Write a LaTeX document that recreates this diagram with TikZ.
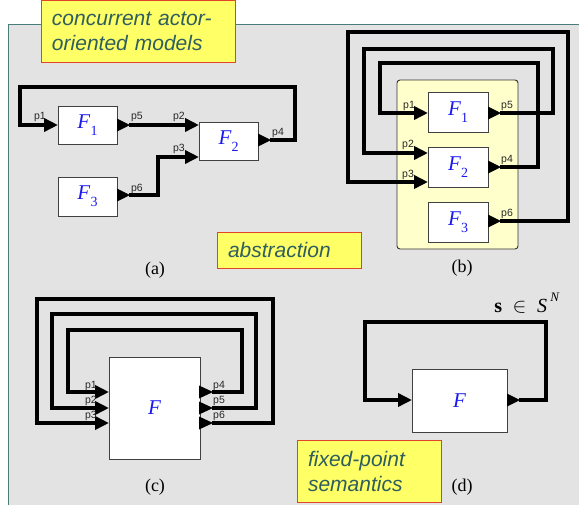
\documentclass[tikz,border=0pt]{standalone}
\usepackage{fontspec}
\setmainfont{Liberation Serif}
\setsansfont{Liberation Sans}
\usetikzlibrary{arrows.meta,calc}
\definecolor{panelgray}{HTML}{E3E3E3}
\definecolor{panelborder}{HTML}{4A7C7C}
\definecolor{noteyellow}{HTML}{FFFF66}
\definecolor{notered}{HTML}{E0452A}
\definecolor{notetext}{HTML}{2F5E5E}
\definecolor{fblue}{HTML}{1A1AF0}
\definecolor{paleyellow}{HTML}{FFFFCC}
\newcommand{\Fsub}[1]{\textit{F}\raisebox{-0.35em}{\fontsize{14}{14}\selectfont\upshape #1}}
\begin{document}
\begin{tikzpicture}[x=1pt,y=-1pt,
  actorbox/.style={draw=black!75, fill=white, line width=0.9pt, inner sep=0pt, outer sep=0pt,
    font=\fontsize{21}{21}\selectfont, text=fblue},
  notebox/.style={draw=notered, fill=noteyellow, line width=0.9pt, inner sep=0pt, outer sep=0pt,
    font=\sffamily\itshape\fontsize{21}{25}\selectfont, text=notetext, align=left},
  wire/.style={line width=3.6pt, line join=miter, draw=black},
  inwire/.style={wire, -{Triangle[length=14pt,width=13pt]}},
  porttri/.style={fill=black},
  portlbl/.style={font=\sffamily\fontsize{10.5}{10.5}\selectfont, text=black!85, inner sep=0pt},
  caption/.style={font=\fontsize{18}{18}\selectfont, inner sep=0pt}
]
\useasboundingbox (0,0) rectangle (579,504);
\clip (0,0) rectangle (579,504);
% panel
\fill[panelgray] (8,24) rectangle (600,520);
\draw[panelborder, line width=1pt] (8,520) -- (8,24) -- (600,24);

% ---------- (a) ----------
\node[actorbox, minimum width=59, minimum height=38] (F1a) at (87.5,125) {\Fsub{1}};
\node[actorbox, minimum width=59, minimum height=38] (F2a) at (228.5,141) {\Fsub{2}};
\node[actorbox, minimum width=59, minimum height=39] (F3a) at (87.5,196.5) {\Fsub{3}};
\coordinate (a-p1) at (F1a.west |- 0,125);
\coordinate (a-p5) at (F1a.east |- 0,125);
\coordinate (a-p2) at (F2a.west |- 0,125);
\coordinate (a-p3) at (F2a.west |- 0,157);
\coordinate (a-p4) at (F2a.east |- 0,140);
\coordinate (a-p6) at (F3a.east |- 0,195);
\foreach \p in {a-p5,a-p4,a-p6}{
  \fill[porttri] ($(\p)+(0,-6.5)$) -- ($(\p)+(13,0)$) -- ($(\p)+(0,6.5)$) -- cycle;
  \coordinate (\p o) at ($(\p)+(12,0)$);
}
\draw[inwire] (a-p4o) -| (295,87) -| (20,125) -- (a-p1);
\draw[inwire] (a-p5o) -- (a-p2);
\draw[inwire] (a-p6o) -| (158,157) -- (a-p3);
\node[portlbl] at (40,117) {p1};
\node[portlbl] at (137,117) {p5};
\node[portlbl] at (179,117) {p2};
\node[portlbl] at (179,149) {p3};
\node[portlbl] at (278,133) {p4};
\node[portlbl] at (137,189) {p6};
\node[caption] (capa) at (155,270) {(a)};

% ---------- (b) ----------
\node[draw=black!80, line width=0.9pt, rounded corners=3pt, fill=paleyellow, inner sep=0pt,
  minimum width=121, minimum height=169] (compb) at (457.5,164.5) {};
\node[actorbox, minimum width=60, minimum height=40] (F1b) at (458,112) {\Fsub{1}};
\node[actorbox, minimum width=60, minimum height=40] (F2b) at (458,167) {\Fsub{2}};
\node[actorbox, minimum width=60, minimum height=40] (F3b) at (458,222) {\Fsub{3}};
\coordinate (b-p1) at (F1b.west |- 0,113);
\coordinate (b-p5) at (F1b.east |- 0,113);
\coordinate (b-p2) at (F2b.west |- 0,153);
\coordinate (b-p3) at (F2b.west |- 0,182);
\coordinate (b-p4) at (F2b.east |- 0,167);
\coordinate (b-p6) at (F3b.east |- 0,221);
\foreach \p in {b-p5,b-p4,b-p6}{
  \fill[porttri] ($(\p)+(0,-6.5)$) -- ($(\p)+(13,0)$) -- ($(\p)+(0,6.5)$) -- cycle;
  \coordinate (\p o) at ($(\p)+(12,0)$);
}
\draw[inwire] (b-p6o) -| (568,32) -| (348,182) -- (b-p3);
\draw[inwire] (b-p4o) -| (538,63) -| (380,113) -- (b-p1);
\draw[inwire] (b-p5o) -| (553,49) -| (364,153) -- (b-p2);
\node[portlbl] at (409,106) {p1};
\node[portlbl] at (507,106) {p5};
\node[portlbl] at (408,145) {p2};
\node[portlbl] at (408,175) {p3};
\node[portlbl] at (507,160) {p4};
\node[portlbl] at (507,214) {p6};
\node[caption] (capb) at (462,268) {(b)};

% ---------- (c) ----------
\node[actorbox, minimum width=91, minimum height=102] (Fc) at (154.5,408) {\textit{F}};
\coordinate (c-p1) at (Fc.west |- 0,392);
\coordinate (c-p2) at (Fc.west |- 0,408);
\coordinate (c-p3) at (Fc.west |- 0,423);
\coordinate (c-p4) at (Fc.east |- 0,392);
\coordinate (c-p5) at (Fc.east |- 0,408);
\coordinate (c-p6) at (Fc.east |- 0,423);
\foreach \p in {c-p4,c-p5,c-p6}{
  \fill[porttri] ($(\p)+(-1,-6.5)$) -- ($(\p)+(13,0)$) -- ($(\p)+(-1,6.5)$) -- cycle;
  \coordinate (\p o) at ($(\p)+(12,0)$);
}
\draw[inwire] (c-p4o) -| (242,330) -| (68,392) -- (c-p1);
\draw[inwire] (c-p5o) -| (256,314) -| (52,408) -- (c-p2);
\draw[inwire] (c-p6o) -| (273,299) -| (37,423) -- (c-p3);
\node[portlbl] at (91,386) {p1};
\node[portlbl] at (91,401) {p2};
\node[portlbl] at (91,416) {p3};
\node[portlbl] at (219,386) {p4};
\node[portlbl] at (219,401) {p5};
\node[portlbl] at (219,416) {p6};
\node[caption] (capc) at (155,487) {(c)};

% ---------- (d) ----------
\node[actorbox, minimum width=95, minimum height=63] (Fd) at (459.5,400.5) {\textit{F}};
\coordinate (d-in) at (Fd.west |- 0,400);
\coordinate (d-out) at (Fd.east |- 0,400);
\fill[porttri] ($(d-out)+(0,-6.5)$) -- ($(d-out)+(13,0)$) -- ($(d-out)+(0,6.5)$) -- cycle;
\coordinate (d-outo) at ($(d-out)+(12,0)$);
\draw[inwire] (d-outo) -| (546,322) -| (365,400) -- (d-in);
\node[inner sep=0pt, font=\fontsize{20}{20}\selectfont] (sig) at (527,303)
  {\textbf{s}\; $\in$\; \textit{S}\,\raisebox{0.55em}{\fontsize{13}{13}\selectfont\textit{N}}};
\node[caption] (capd) at (462,487) {(d)};

% ---------- notes ----------
\node[notebox, minimum width=194, minimum height=62, text width=172] (n1) at (138,31)
  {concurrent actor-\\oriented models};
\node[notebox, minimum width=144, minimum height=36, text width=122] (n2) at (289,250)
  {abstraction};
\node[notebox, minimum width=144, minimum height=62, text width=122] (n3) at (369,471)
  {fixed-point\\semantics};
\end{tikzpicture}
\end{document}
